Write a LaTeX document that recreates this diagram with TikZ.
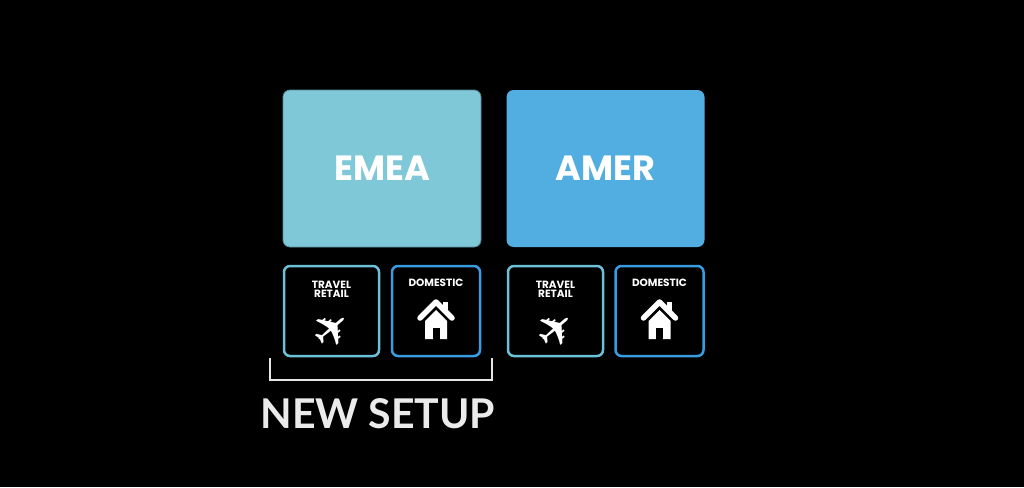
\documentclass[tikz,border=0pt]{standalone}
\usepackage{fontspec}
\setmainfont{Poppins}
\newfontfamily\labelfont{Lato}
\newfontfamily\symfont{DejaVu Sans}
\usetikzlibrary{positioning}
\definecolor{emeacol}{HTML}{7EC8D8}
\definecolor{amercol}{HTML}{52AEE0}
\definecolor{travcol}{HTML}{6CC0D8}
\definecolor{domcol}{HTML}{3A9CE0}
\tikzset{
  region/.style={draw=none,rounded corners=7pt,minimum width=198pt,minimum height=157pt,
    text=white,font=\bfseries\fontsize{35}{36}\selectfont},
  market/.style={draw=#1,line width=2.5pt,rounded corners=6pt,fill=black,minimum height=90pt},
  tag/.style={text=white,font=\bfseries\fontsize{10.5}{10}\selectfont,align=center},
}
\newcommand{\homeicon}[1]{%
  \fill[white] ([xshift=-11pt,yshift=-20pt]#1) -- ([xshift=11pt,yshift=-20pt]#1)
    -- ([xshift=11pt,yshift=-2pt]#1) -- ([yshift=9pt]#1) -- ([xshift=-11pt,yshift=-2pt]#1) -- cycle;
  \fill[black] ([xshift=-3.5pt,yshift=-9pt]#1) rectangle ([xshift=3.5pt,yshift=-21pt]#1);
  \draw[black,line width=9pt,line join=miter]
    ([xshift=-17pt,yshift=0pt]#1) -- ([yshift=16pt]#1) -- ([xshift=17pt,yshift=0pt]#1);
  \fill[white] ([xshift=7pt,yshift=17pt]#1) rectangle ([xshift=12pt,yshift=8pt]#1);
  \draw[white,line width=5.5pt,line cap=round,line join=round]
    ([xshift=-16pt,yshift=1pt]#1) -- ([yshift=17pt]#1) -- ([xshift=16pt,yshift=1pt]#1);
}
\begin{document}
\begin{tikzpicture}[x=1pt,y=-1pt]
  \fill[black] (0,0) rectangle (1024,487);
  \useasboundingbox (0,0) rectangle (1024,487);
  \node[region,fill=emeacol,draw=emeacol!70!black,line width=0.8pt] (emea) at (382,168.5) {EMEA};
  \node[region,fill=amercol] (amer) at (605.5,168.5) {AMER};
  \node[market=travcol,minimum width=95pt] (trav1) at (331.5,311) {};
  \node[market=domcol,minimum width=88pt] (dom1) at (436,311) {};
  \node[market=travcol,minimum width=95pt] (trav2) at (555.5,311) {};
  \node[market=domcol,minimum width=88pt] (dom2) at (659.5,311) {};
  \foreach \b in {trav1,trav2}{
    \node[tag] at ([yshift=22pt]\b.center) {TRAVEL\\[-1pt]RETAIL};
    \node[text=white,font=\symfont\fontsize{46}{46}\selectfont,rotate=40,inner sep=0pt]
      at ([yshift=-19pt]\b.center) {✈};
  }
  \foreach \b in {dom1,dom2}{
    \node[tag] at ([yshift=28pt]\b.center) {DOMESTIC};
    \coordinate (roof) at ([yshift=-8pt]\b.center);
    \homeicon{roof}
  }
  \coordinate (brl) at (270,358);
  \coordinate (brr) at (492,358);
  \draw[white!90!black,line width=2pt] (brl) -- ++(0,22) -| (brr);
  \node[text=white!92!black,font=\labelfont\bfseries\fontsize{41}{42}\selectfont,anchor=west]
    (setup) at (257,414) {NEW SETUP};
\end{tikzpicture}
\end{document}
